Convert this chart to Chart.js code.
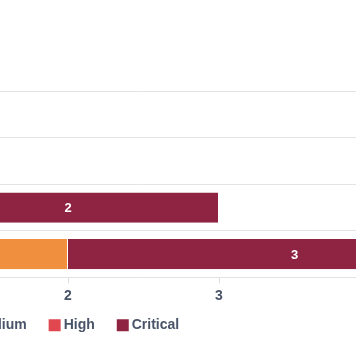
<!DOCTYPE html>
<html>
<head>
<meta charset="utf-8">
<script src="https://cdn.jsdelivr.net/npm/chart.js@4/dist/chart.umd.min.js"></script>
<style>
  html, body { margin: 0; padding: 0; background: #ffffff; overflow: hidden; width: 356px; height: 364px; }
  #wrap { position: absolute; left: -454px; top: 0; width: 995px; height: 364px; }
</style>
</head>
<body>
<div id="wrap"><canvas id="c"></canvas></div>
<script>
const categories = ['Asset A', 'Asset B', 'Asset C', 'Asset D'];
const seriesNames = ['Low', 'Medium', 'High', 'Critical'];
const lowValues = [0, 0, 1, 0];
const mediumValues = [0, 1, 0, 2];
const highValues = [1, 0, 0, 0];
const criticalValues = [0, 0, 2, 3];
const xTicks = [0, 1, 2, 3, 4, 5];

const colors = ['#2e93d9', '#f0903f', '#e0474f', '#8e2441'];
const seriesValues = [lowValues, mediumValues, highValues, criticalValues];
const textColor = '#4a5468';
const fontFamily = "'Liberation Sans', Arial, Helvetica, sans-serif";

const dataLabels = {
  id: 'dataLabels',
  afterDatasetsDraw(chart) {
    const ctx = chart.ctx;
    ctx.save();
    ctx.font = 'bold 13px ' + fontFamily;
    ctx.fillStyle = '#ffffff';
    ctx.textAlign = 'center';
    ctx.textBaseline = 'middle';
    chart.data.datasets.forEach((ds, i) => {
      const meta = chart.getDatasetMeta(i);
      if (meta.hidden) return;
      meta.data.forEach((el, j) => {
        const v = ds.data[j];
        if (!v) return;
        const p = el.getCenterPoint();
        ctx.fillText(String(v), p.x, p.y + 1);
      });
    });
    ctx.restore();
  }
};

const legendShift = {
  id: 'legendShift',
  afterLayout(chart) {
    if (chart.legend) {
      chart.legend.top -= 16;
      chart.legend.bottom -= 16;
    }
  }
};

new Chart(document.getElementById('c'), {
  type: 'bar',
  data: {
    labels: categories,
    datasets: seriesNames.map((name, i) => ({
      label: name,
      data: seriesValues[i],
      backgroundColor: colors[i],
      borderColor: 'rgba(255,255,255,0.85)',
      borderWidth: { top: 0, bottom: 0, left: 0, right: 1 },
      borderSkipped: false,
      barPercentage: 0.65,
      categoryPercentage: 1
    }))
  },
  options: {
    indexAxis: 'y',
    responsive: true,
    maintainAspectRatio: false,
    animation: false,
    layout: { padding: { left: 10, right: 20, top: 91, bottom: 5.7 } },
    plugins: {
      tooltip: { enabled: false },
      legend: {
        position: 'bottom',
        align: 'center',
        labels: {
          usePointStyle: true,
          pointStyle: 'rect',
          boxWidth: 4,
          boxHeight: 12,
          padding: 26,
          color: textColor,
          font: { family: fontFamily, size: 14, weight: 'bold' },
          generateLabels(chart) {
            return Chart.defaults.plugins.legend.labels.generateLabels(chart).map(it => Object.assign(it, { lineWidth: 0, strokeStyle: 'rgba(0,0,0,0)' }));
          }
        }
      }
    },
    scales: {
      x: {
        stacked: true,
        min: xTicks[0],
        max: xTicks[xTicks.length - 1],
        afterBuildTicks(scale) { scale.ticks = xTicks.map(v => ({ value: v })); },
        border: { display: false },
        grid: { drawOnChartArea: false, drawTicks: true, tickLength: 6, color: '#e0e0e0' },
        ticks: { padding: 4, color: textColor, font: { family: fontFamily, size: 14, weight: 'bold' } }
      },
      y: {
        stacked: true,
        afterFit(scale) { scale.width = 210; },
        border: { display: false },
        grid: { offset: true, drawTicks: false, color: '#e3e3e3' },
        ticks: { color: textColor, font: { family: fontFamily, size: 12 } }
      }
    }
  },
  plugins: [dataLabels, legendShift]
});
</script>
</body>
</html>
